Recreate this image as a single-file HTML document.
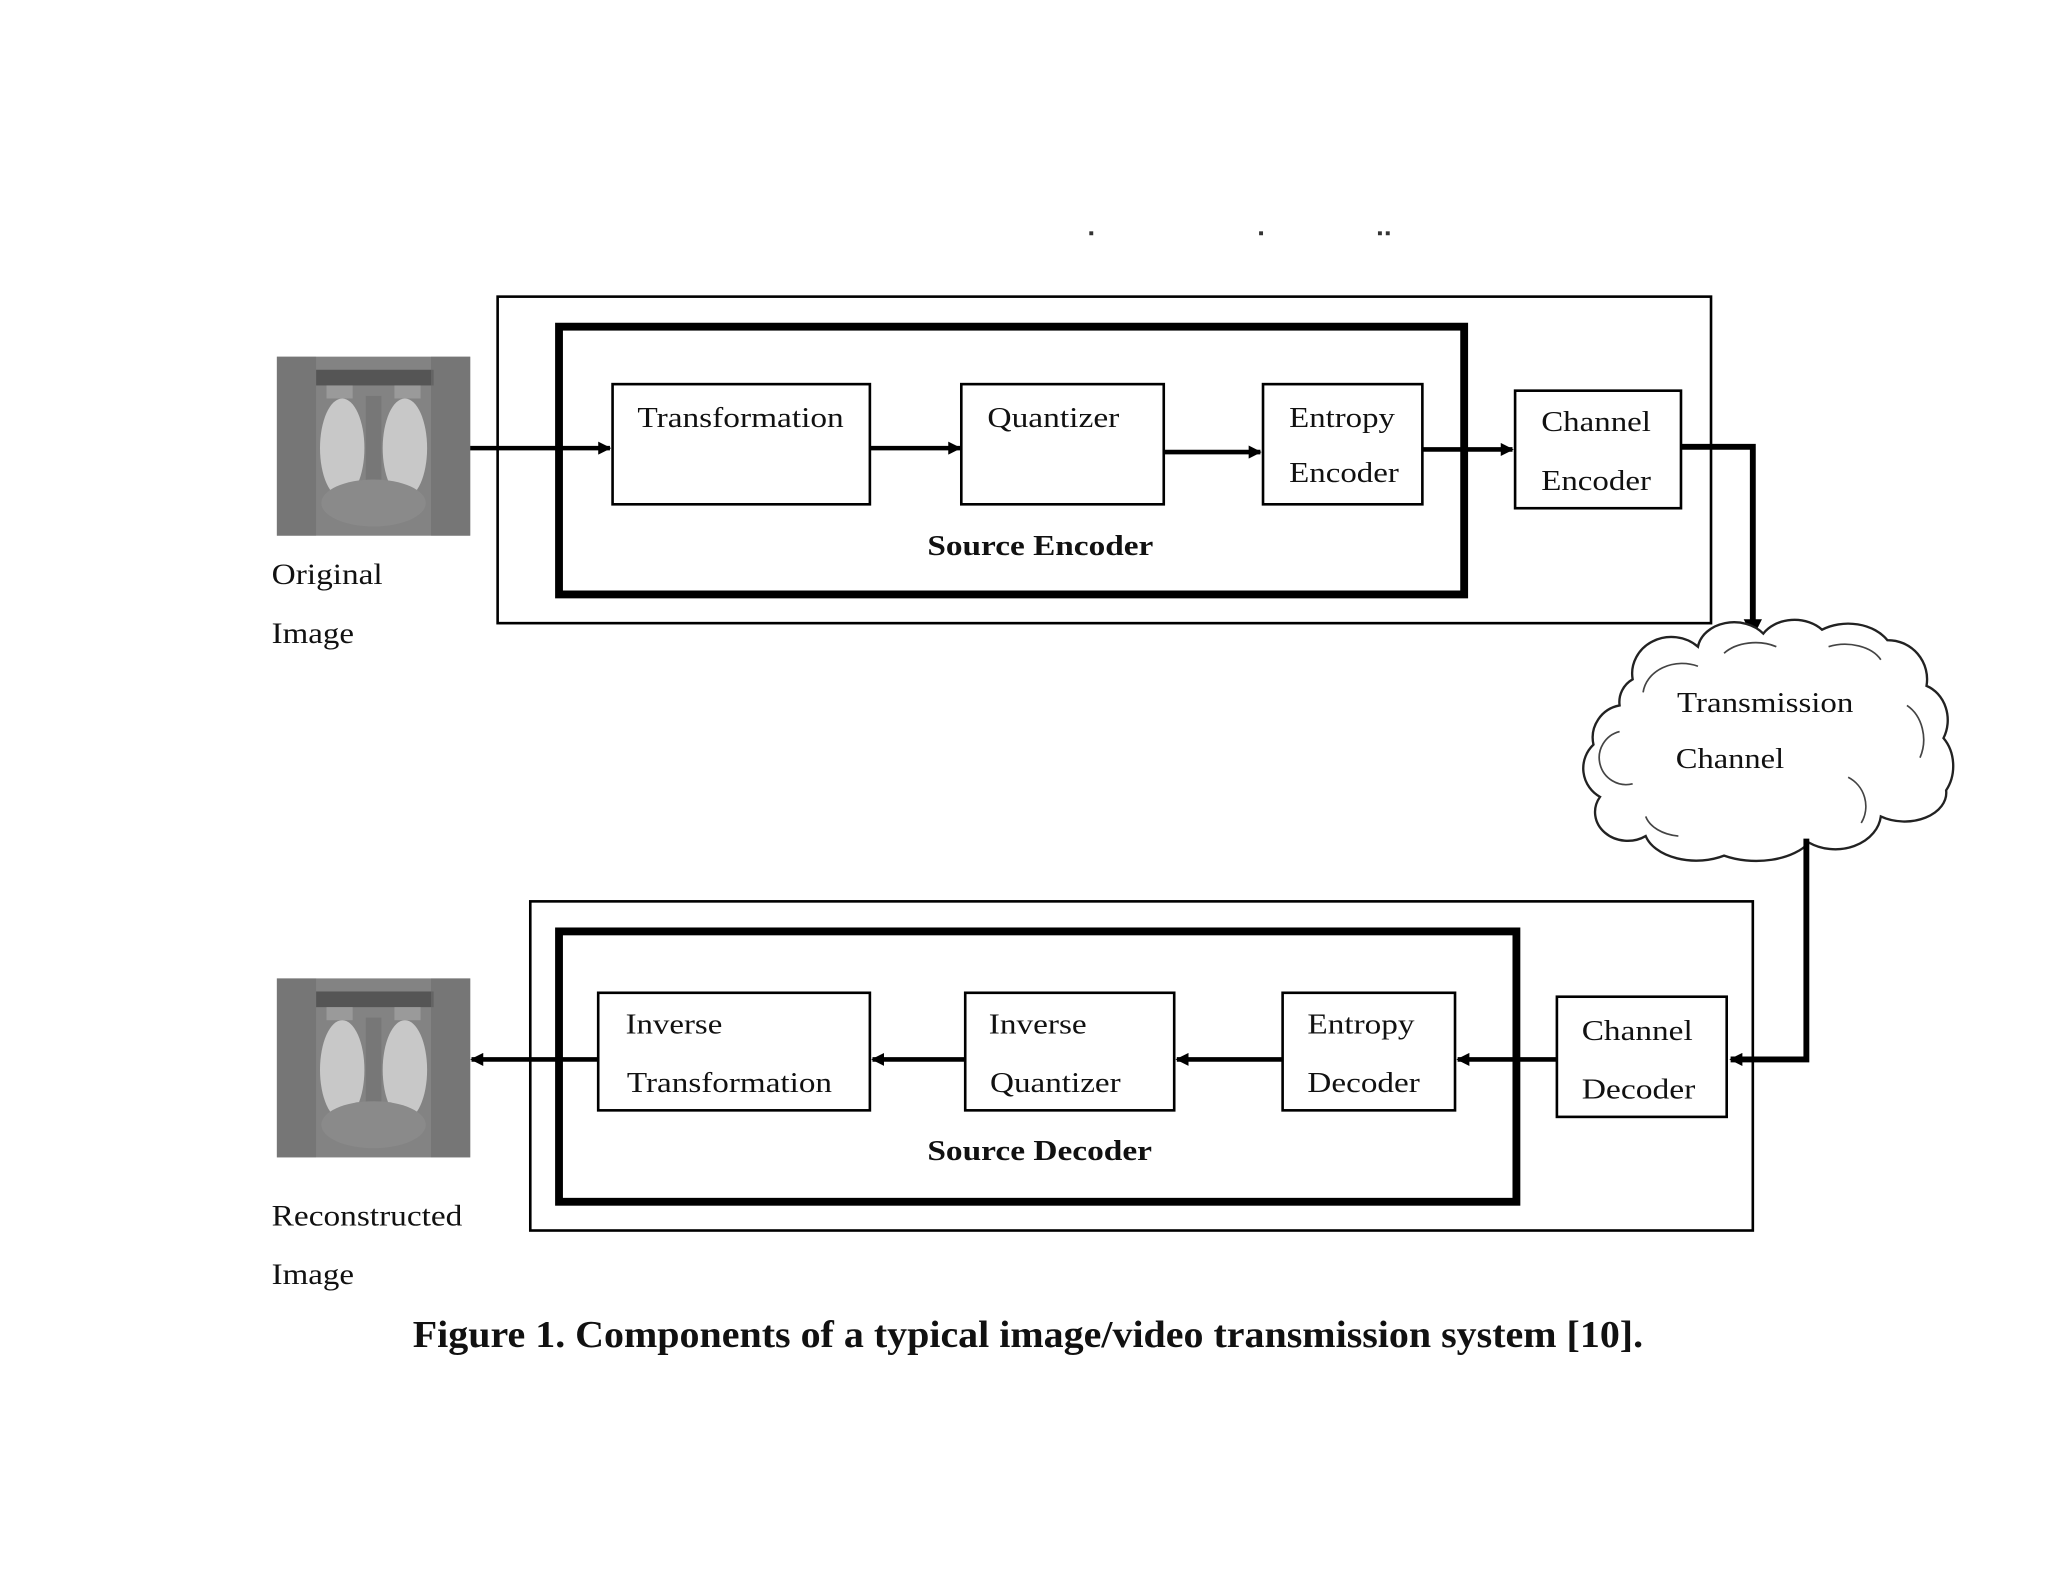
<!DOCTYPE html>
<html><head><meta charset="utf-8"><style>
html,body{margin:0;padding:0;background:#fff;}
svg{display:block;}
text{font-family:"Liberation Serif",serif;fill:#111;}
</style></head><body>
<svg width="2048" height="1582" viewBox="0 0 1568 1211" xmlns="http://www.w3.org/2000/svg">
<defs>
<marker id="ah" markerWidth="10" markerHeight="10" refX="9" refY="5" orient="auto" markerUnits="userSpaceOnUse">
<path d="M0,0 L10,5 L0,10 z" fill="#000"/></marker>
<marker id="ahb" markerWidth="14" markerHeight="14" refX="13" refY="7" orient="auto" markerUnits="userSpaceOnUse">
<path d="M0,0 L14,7 L0,14 z" fill="#000"/></marker>
<g id="baboon">
<rect x="0" y="0" width="148" height="137" fill="#7a7a7a"/>
<rect x="0" y="0" width="148" height="137" fill="#8c8c8c" opacity="0.5"/>
<rect x="30" y="10" width="90" height="12" fill="#555"/>
<rect x="38" y="22" width="20" height="10" fill="#9a9a9a"/>
<rect x="90" y="22" width="20" height="10" fill="#9a9a9a"/>
<ellipse cx="50" cy="70" rx="17" ry="38" fill="#c8c8c8"/>
<ellipse cx="98" cy="70" rx="17" ry="38" fill="#c8c8c8"/>
<rect x="68" y="30" width="12" height="75" fill="#777"/>
<ellipse cx="74" cy="112" rx="40" ry="18" fill="#8a8a8a"/>
<rect x="0" y="0" width="30" height="137" fill="#6e6e6e" opacity="0.6"/>
<rect x="118" y="0" width="30" height="137" fill="#6e6e6e" opacity="0.6"/>
</g>
</defs>

<rect x="834" y="177" width="3" height="3" fill="#333"/>
<rect x="964" y="177" width="3" height="3" fill="#333"/>
<rect x="1055" y="177" width="3" height="3" fill="#333"/>
<rect x="1061" y="177" width="3" height="3" fill="#333"/>

<use href="#baboon" x="212" y="273"/>
<text x="208" y="447" font-size="23" textLength="85" lengthAdjust="spacingAndGlyphs">Original</text>
<text x="208" y="492" font-size="23" textLength="63" lengthAdjust="spacingAndGlyphs">Image</text>

<rect x="381" y="227" width="929" height="250" fill="none" stroke="#000" stroke-width="2"/>
<rect x="428" y="250" width="693" height="205" fill="none" stroke="#000" stroke-width="6"/>

<rect x="469" y="294" width="197" height="92" fill="none" stroke="#000" stroke-width="2"/>
<text x="488" y="327" font-size="22" textLength="158" lengthAdjust="spacingAndGlyphs">Transformation</text>
<rect x="736" y="294" width="155" height="92" fill="none" stroke="#000" stroke-width="2"/>
<text x="756" y="327" font-size="22" textLength="101" lengthAdjust="spacingAndGlyphs">Quantizer</text>
<rect x="967" y="294" width="122" height="92" fill="none" stroke="#000" stroke-width="2"/>
<text x="987" y="327" font-size="22" textLength="81" lengthAdjust="spacingAndGlyphs">Entropy</text>
<text x="987" y="369" font-size="22" textLength="84" lengthAdjust="spacingAndGlyphs">Encoder</text>
<rect x="1160" y="299" width="127" height="90" fill="none" stroke="#000" stroke-width="2"/>
<text x="1180" y="330" font-size="22" textLength="84" lengthAdjust="spacingAndGlyphs">Channel</text>
<text x="1180" y="375" font-size="22" textLength="84" lengthAdjust="spacingAndGlyphs">Encoder</text>
<text x="710" y="425" font-size="22" font-weight="bold" textLength="173" lengthAdjust="spacingAndGlyphs">Source Encoder</text>

<line x1="360" y1="343" x2="467" y2="343" stroke="#000" stroke-width="3.5" marker-end="url(#ah)"/>
<line x1="666" y1="343" x2="735" y2="343" stroke="#000" stroke-width="3.5" marker-end="url(#ah)"/>
<line x1="891" y1="346" x2="965" y2="346" stroke="#000" stroke-width="3.5" marker-end="url(#ah)"/>
<line x1="1089" y1="344" x2="1158" y2="344" stroke="#000" stroke-width="3.5" marker-end="url(#ah)"/>
<polyline points="1287,342 1342,342 1342,487" fill="none" stroke="#000" stroke-width="4.5" marker-end="url(#ahb)"/>

<path d="M1250,520 A30,28 0 0 1 1300,495 A28,22 0 0 1 1350,485 A28,22 0 0 1 1395,482 A35,26 0 0 1 1445,490 A30,30 0 0 1 1475,525 A25,28 0 0 1 1488,565 A25,30 0 0 1 1490,605 A32,22 0 0 1 1440,625 A35,28 0 0 1 1385,645 A45,25 0 0 1 1320,655 A40,25 0 0 1 1260,640 A25,22 0 0 1 1225,610 A25,25 0 0 1 1220,570 A25,25 0 0 1 1240,540 A20,20 0 0 1 1250,520 Z" fill="#fff" stroke="#222" stroke-width="1.8"/>
<path d="M1258,530 A30,25 0 0 1 1300,510 M1320,500 A30,20 0 0 1 1360,495 M1400,495 A30,20 0 0 1 1440,505 M1460,540 A25,30 0 0 1 1470,580 M1415,595 A25,25 0 0 1 1425,630 M1250,600 A20,20 0 0 1 1240,560 M1285,640 A30,20 0 0 1 1260,625" fill="none" stroke="#444" stroke-width="1.3"/>
<text x="1284" y="545" font-size="22" textLength="135" lengthAdjust="spacingAndGlyphs">Transmission</text>
<text x="1283" y="588" font-size="22" textLength="83" lengthAdjust="spacingAndGlyphs">Channel</text>

<polyline points="1383,642 1383,811 1325,811" fill="none" stroke="#000" stroke-width="4.5" marker-end="url(#ah)"/>

<rect x="406" y="690" width="936" height="252" fill="none" stroke="#000" stroke-width="2"/>
<rect x="428" y="713" width="733" height="207" fill="none" stroke="#000" stroke-width="6"/>

<rect x="458" y="760" width="208" height="90" fill="none" stroke="#000" stroke-width="2"/>
<text x="479" y="791" font-size="22" textLength="74" lengthAdjust="spacingAndGlyphs">Inverse</text>
<text x="480" y="836" font-size="22" textLength="157" lengthAdjust="spacingAndGlyphs">Transformation</text>
<rect x="739" y="760" width="160" height="90" fill="none" stroke="#000" stroke-width="2"/>
<text x="757" y="791" font-size="22" textLength="75" lengthAdjust="spacingAndGlyphs">Inverse</text>
<text x="758" y="836" font-size="22" textLength="100" lengthAdjust="spacingAndGlyphs">Quantizer</text>
<rect x="982" y="760" width="132" height="90" fill="none" stroke="#000" stroke-width="2"/>
<text x="1001" y="791" font-size="22" textLength="82" lengthAdjust="spacingAndGlyphs">Entropy</text>
<text x="1001" y="836" font-size="22" textLength="86" lengthAdjust="spacingAndGlyphs">Decoder</text>
<rect x="1192" y="763" width="130" height="92" fill="none" stroke="#000" stroke-width="2"/>
<text x="1211" y="796" font-size="22" textLength="85" lengthAdjust="spacingAndGlyphs">Channel</text>
<text x="1211" y="841" font-size="22" textLength="87" lengthAdjust="spacingAndGlyphs">Decoder</text>
<text x="710" y="888" font-size="22" font-weight="bold" textLength="172" lengthAdjust="spacingAndGlyphs">Source Decoder</text>

<line x1="1192" y1="811" x2="1116" y2="811" stroke="#000" stroke-width="3.5" marker-end="url(#ah)"/>
<line x1="982" y1="811" x2="901" y2="811" stroke="#000" stroke-width="3.5" marker-end="url(#ah)"/>
<line x1="739" y1="811" x2="668" y2="811" stroke="#000" stroke-width="3.5" marker-end="url(#ah)"/>
<line x1="458" y1="811" x2="361" y2="811" stroke="#000" stroke-width="3.5" marker-end="url(#ah)"/>

<use href="#baboon" x="212" y="749"/>
<text x="208" y="938" font-size="23" textLength="146" lengthAdjust="spacingAndGlyphs">Reconstructed</text>
<text x="208" y="983" font-size="23" textLength="63" lengthAdjust="spacingAndGlyphs">Image</text>

<text x="316" y="1031" font-size="29" font-weight="bold" textLength="942" lengthAdjust="spacingAndGlyphs">Figure 1. Components of a typical image/video transmission system [10].</text>
</svg>
</body></html>
